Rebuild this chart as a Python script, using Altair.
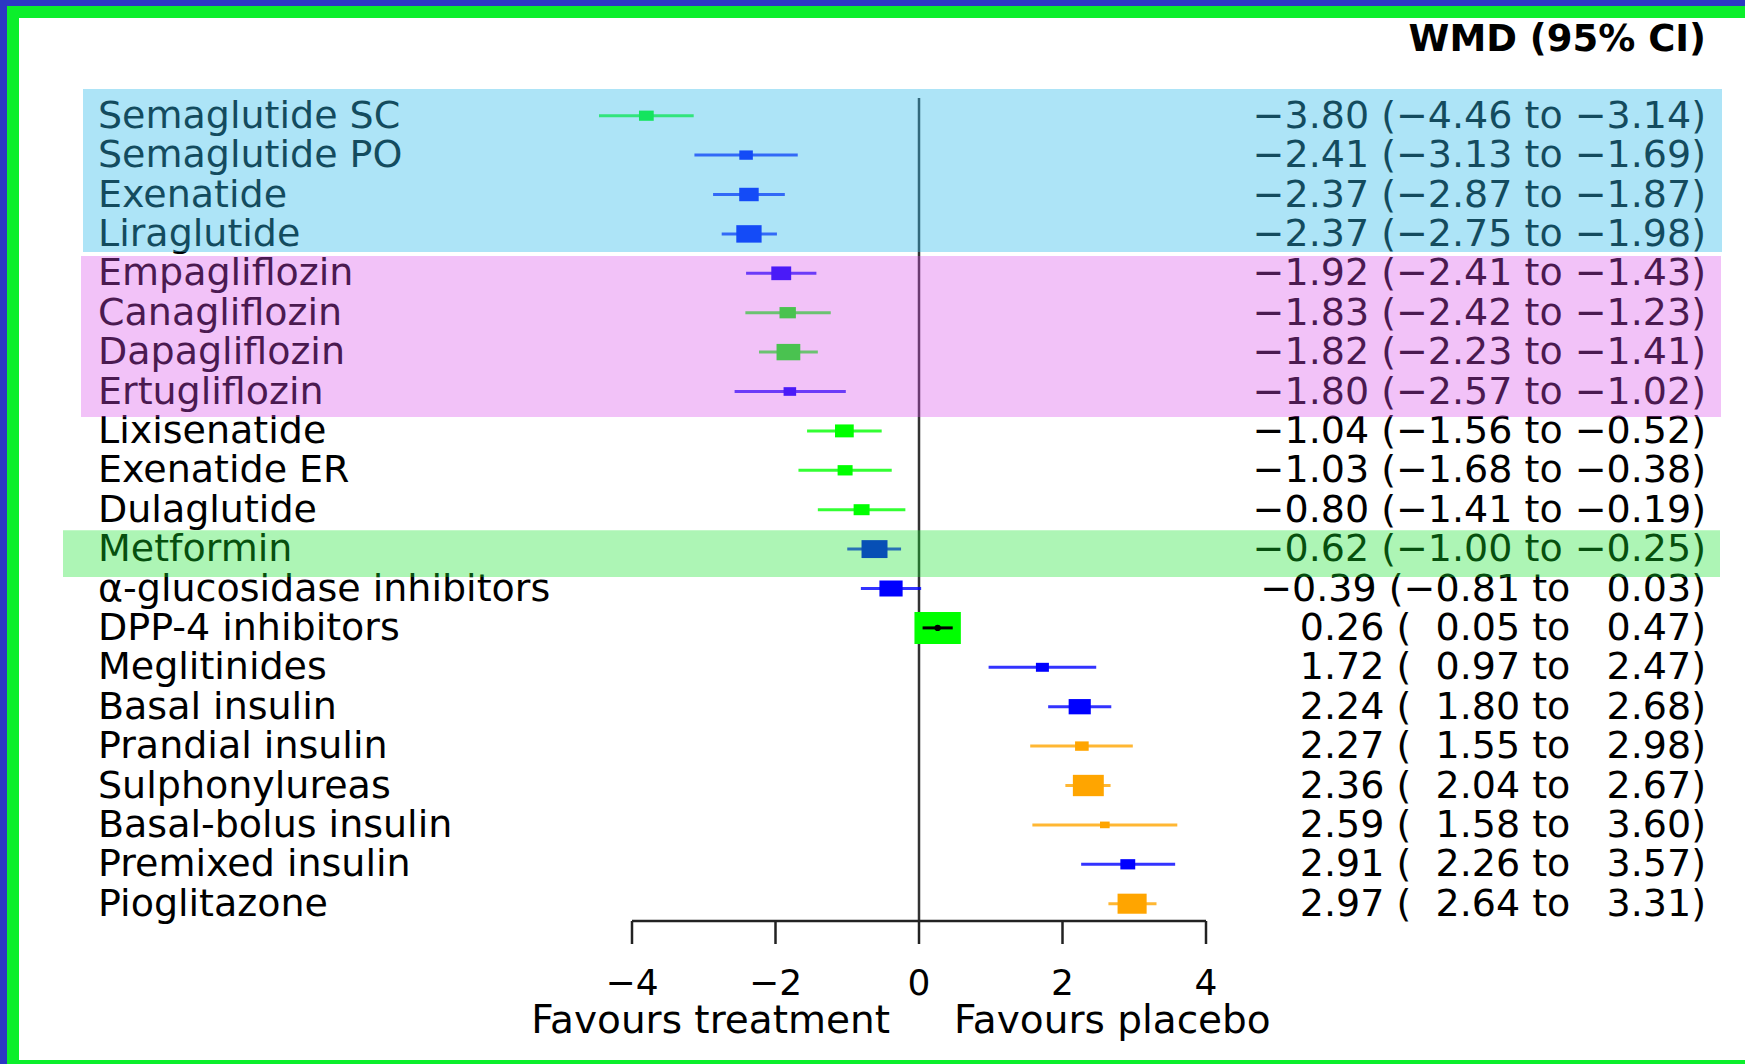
import altair as alt
import pandas as pd

# ---------------- data ----------------
drugs = [
    "Semaglutide SC", "Semaglutide PO", "Exenatide", "Liraglutide",
    "Empagliflozin", "Canagliflozin", "Dapagliflozin", "Ertugliflozin",
    "Lixisenatide", "Exenatide ER", "Dulaglutide", "Metformin",
    "α-glucosidase inhibitors", "DPP-4 inhibitors", "Meglitinides",
    "Basal insulin", "Prandial insulin", "Sulphonylureas",
    "Basal-bolus insulin", "Premixed insulin", "Pioglitazone",
]
wmd = [-3.80, -2.41, -2.37, -2.37, -1.92, -1.83, -1.82, -1.80, -1.04, -1.03,
       -0.80, -0.62, -0.39, 0.26, 1.72, 2.24, 2.27, 2.36, 2.59, 2.91, 2.97]
ci_low = [-4.46, -3.13, -2.87, -2.75, -2.41, -2.42, -2.23, -2.57, -1.56, -1.68,
          -1.41, -1.00, -0.81, 0.05, 0.97, 1.80, 1.55, 2.04, 1.58, 2.26, 2.64]
ci_high = [-3.14, -1.69, -1.87, -1.98, -1.43, -1.23, -1.41, -1.02, -0.52, -0.38,
           -0.19, -0.25, 0.03, 0.47, 2.47, 2.68, 2.98, 2.67, 3.60, 3.57, 3.31]
category = ["g", "b", "b", "b", "b", "g", "g", "b", "g", "g", "g", "b",
            "b", "g", "b", "b", "o", "o", "o", "b", "o"]

tick_values = [-4, -2, 0, 2, 4]
header = "WMD (95% CI)"
favours_left = "Favours treatment"
favours_right = "Favours placebo"

# highlighted groups of rows (first row, last row)
highlights = [("Semaglutide SC", "Liraglutide"),
              ("Empagliflozin", "Ertugliflozin"),
              ("Metformin", "Metformin")]

# ---------------- styles ----------------
W, H = 1745, 1064
FONT = "DejaVu Sans"
ZERO_PX, PX_PER_UNIT = 919, 71.75
ROW0_PX, ROW_STEP = 115.7, 39.4
AXIS_Y = 921
FSP = "\u2007"  # figure space used to pad positive numbers

xscale = alt.Scale(domain=[-ZERO_PX / PX_PER_UNIT, (W - ZERO_PX) / PX_PER_UNIT],
                   nice=False, zero=False)
yscale = alt.Scale(domain=[-ROW0_PX / ROW_STEP, (H - ROW0_PX) / ROW_STEP],
                   nice=False, zero=False, reverse=True)
cscale = alt.Scale(domain=["g", "b", "o"], range=["#00FF00", "#0000FF", "#FFA500"])

band_style = [  # top offset, bottom offset (rows), left px, right px, colour, opacity
    (-0.68, 0.46, 83, 1722, "#32BCEB", 0.40),
    (-0.44, 0.65, 81, 1721, "#DA4CEB", 0.34),
    (-0.48, 0.71, 63, 1720, "#14E22B", 0.35),
]

df = pd.DataFrame({"drug": drugs, "est": wmd, "lo": ci_low, "hi": ci_high,
                   "cat": category})
df["row"] = range(len(df))

def X(f):
    return alt.X(f, type="quantitative", scale=xscale, axis=None)

def Y(f):
    return alt.Y(f, type="quantitative", scale=yscale, axis=None)

base = alt.Chart(df)

# CI lines (black when the box is wider than the interval)
ci = base.mark_rule(strokeWidth=3, opacity=0.8).encode(
    x=X("lo"), x2="hi", y=Y("row"),
    color=alt.condition("datum.hi - datum.lo < 0.5", alt.value("black"),
                        alt.Color("cat:N", scale=cscale, legend=None)),
)

box_path = "M-1.45,-1L1.45,-1L1.45,1L-1.45,1Z"
boxes = base.transform_calculate(
    weight="1 / pow(datum.hi - datum.lo, 2)"
).mark_point(shape=box_path, filled=True, opacity=1).encode(
    x=X("est"), y=Y("row"),
    size=alt.Size("weight:Q", scale=alt.Scale(zero=True, range=[0, 1024]), legend=None),
    color=alt.Color("cat:N", scale=cscale, legend=None),
)

ci_front = base.transform_filter("datum.hi - datum.lo < 0.5").mark_rule(
    strokeWidth=3, color="black").encode(x=X("lo"), x2="hi", y=Y("row"))
dot_front = base.transform_filter("datum.hi - datum.lo < 0.5").mark_point(
    shape="circle", filled=True, color="black", size=40, opacity=1).encode(
    x=X("est"), y=Y("row"))

zero_line = alt.Chart(pd.DataFrame({"v": [0]})).mark_rule(
    color="#333333", strokeWidth=2.5).encode(
    x=X("v"), y=alt.value(98), y2=alt.value(AXIS_Y))

ticks_df = pd.DataFrame({"v": tick_values})
axis_line = alt.Chart(pd.DataFrame({"a": [min(tick_values)], "b": [max(tick_values)]})).mark_rule(
    color="#222222", strokeWidth=2.5).encode(x=X("a"), x2="b", y=alt.value(AXIS_Y))
axis_ticks = alt.Chart(ticks_df).mark_rule(color="#222222", strokeWidth=2.5).encode(
    x=X("v"), y=alt.value(AXIS_Y), y2=alt.value(AXIS_Y + 23))
axis_labels = alt.Chart(ticks_df).mark_text(
    font=FONT, fontSize=36, baseline="middle", align="center", color="black").encode(
    x=X("v"), y=alt.value(984), text=alt.Text("v:Q", format="d"))

fav_left = alt.Chart(pd.DataFrame({"t": [favours_left]})).mark_text(
    font=FONT, fontSize=39, baseline="middle", align="right", color="black").encode(
    x=alt.value(890), y=alt.value(1021), text="t:N")
fav_right = alt.Chart(pd.DataFrame({"t": [favours_right]})).mark_text(
    font=FONT, fontSize=39, baseline="middle", align="left", color="black").encode(
    x=alt.value(954), y=alt.value(1021), text="t:N")

hdr = alt.Chart(pd.DataFrame({"t": [header]})).mark_text(
    font=FONT, fontSize=37, fontWeight="bold", baseline="middle", align="right",
    color="black").encode(x=alt.value(1706), y=alt.value(40), text="t:N")

TXT = dict(font=FONT, fontSize=38, baseline="middle", color="black", dy=1)
labels = base.mark_text(align="left", **TXT).encode(
    x=alt.value(98), y=Y("row"), text="drug:N")
ci_text = base.transform_calculate(
    ct="format(datum.est, '.2f') + ' (' + (datum.lo < 0 ? '' : '" + FSP + "') + "
       "format(datum.lo, '.2f') + ' to ' + (datum.hi < 0 ? '' : '" + FSP + "') + "
       "format(datum.hi, '.2f') + ')'"
).mark_text(align="right", **TXT).encode(
    x=alt.value(1706), y=Y("row"), text="ct:N")

# highlight overlays (translucent, drawn on top)
overlays = []
for (first, last), (t_off, b_off, xl, xr, col, op) in zip(highlights, band_style):
    r0, r1 = drugs.index(first), drugs.index(last)
    bd = pd.DataFrame({"top": [r0 + t_off], "bottom": [r1 + b_off]})
    overlays.append(alt.Chart(bd).mark_rect(color=col, opacity=op).encode(
        x=alt.value(xl), x2=alt.value(xr), y=Y("top"), y2="bottom"))

# frame
one = pd.DataFrame({"k": [0]})
def frame_rect(x0, x1, y0, y1, col):
    return alt.Chart(one).mark_rect(color=col, opacity=1).encode(
        x=alt.value(x0), x2=alt.value(x1), y=alt.value(y0), y2=alt.value(y1))

frame = [
    frame_rect(0, W, 0, 6, "#2C38C4"),
    frame_rect(0, 7, 0, H, "#2C38C4"),
    frame_rect(7, W, 6, 18, "#0BEF2B"),
    frame_rect(7, 19, 6, H, "#0BEF2B"),
    frame_rect(7, W, 1060, H, "#0BEF2B"),
]

chart = alt.layer(
    zero_line, axis_line, axis_ticks, axis_labels, fav_left, fav_right, hdr,
    ci, boxes, ci_front, dot_front,
    labels, ci_text,
    *overlays, *frame,
).properties(
    width=W, height=H, autosize=alt.AutoSizeParams(type="none"), padding=0,
    background="white",
).configure_view(stroke=None)

chart.save("out.html", embed_options={"renderer": "svg", "actions": False})
